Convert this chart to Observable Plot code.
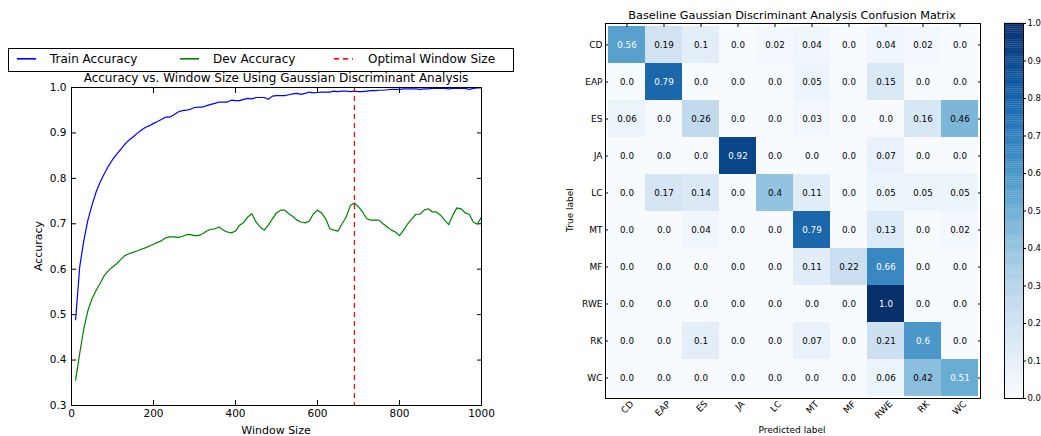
<!DOCTYPE html>
<html><head><meta charset="utf-8">
<script src="https://cdn.jsdelivr.net/npm/d3@7"></script>
<script src="https://cdn.jsdelivr.net/npm/@observablehq/plot@0.6"></script>
<style>
body{margin:0;background:#fff;font-family:"DejaVu Sans",sans-serif;color:#000;}
#root{position:relative;width:1041px;height:436px;overflow:hidden;background:#fff;}
.abs{position:absolute;white-space:nowrap;line-height:1;}
.c{transform:translate(-50%,-50%);}
.cr{transform:translate(-50%,-50%) rotate(-90deg);}
</style></head><body><div id="root"></div>
<script>
// ---------- Data: left panel ----------
const windowSizes = [10,20,30,40,50,60,70,80,90,100,110,120,130,140,150,160,170,180,190,200,
  210,220,230,240,250,260,270,280,290,300,310,320,330,340,350,360,370,380,390,400,
  410,420,430,440,450,460,470,480,490,500,510,520,530,540,550,560,570,580,590,600,
  610,620,630,640,650,660,670,680,690,700,710,720,730,740,750,760,770,780,790,800,
  810,820,830,840,850,860,870,880,890,900,910,920,930,940,950,960,970,980,990,1000];
const trainAccuracy = [0.489,0.605,0.663,0.708,0.741,0.770,0.792,0.810,0.827,0.841,
  0.853,0.864,0.875,0.884,0.891,0.899,0.906,0.912,0.916,0.921,
  0.925,0.930,0.935,0.935,0.940,0.946,0.949,0.950,0.952,0.956,
  0.957,0.957,0.960,0.963,0.965,0.968,0.968,0.968,0.972,0.971,
  0.971,0.974,0.976,0.975,0.978,0.978,0.978,0.974,0.981,0.982,
  0.982,0.982,0.984,0.986,0.987,0.985,0.987,0.990,0.988,0.989,
  0.990,0.990,0.990,0.992,0.991,0.992,0.992,0.991,0.992,0.991,
  0.991,0.992,0.993,0.993,0.994,0.994,0.995,0.996,0.996,0.996,
  0.997,0.997,0.997,0.997,0.996,0.997,0.997,0.998,0.998,0.998,
  0.998,0.997,0.998,0.998,0.998,0.998,0.996,0.998,0.999,0.999];
const devAccuracy = [0.356,0.414,0.469,0.509,0.535,0.553,0.569,0.586,0.597,0.605,
  0.612,0.621,0.630,0.634,0.637,0.640,0.644,0.647,0.651,0.655,
  0.659,0.663,0.669,0.671,0.671,0.670,0.672,0.676,0.676,0.674,
  0.674,0.678,0.684,0.688,0.689,0.693,0.686,0.682,0.680,0.684,
  0.697,0.703,0.715,0.722,0.704,0.693,0.686,0.697,0.711,0.724,
  0.730,0.730,0.722,0.716,0.708,0.704,0.702,0.706,0.722,0.730,
  0.724,0.711,0.689,0.686,0.684,0.700,0.715,0.740,0.746,0.737,
  0.726,0.711,0.708,0.708,0.708,0.700,0.693,0.686,0.682,0.674,
  0.686,0.700,0.711,0.721,0.721,0.730,0.733,0.726,0.726,0.719,
  0.708,0.698,0.719,0.735,0.733,0.724,0.721,0.704,0.699,0.715];
const optimalWindow = [690];
const xTicks = [0,200,400,600,800,1000];
const yTicks = [0.3,0.4,0.5,0.6,0.7,0.8,0.9,1.0];
const seriesNames = ["Train Accuracy","Dev Accuracy","Optimal Window Size"];
const seriesColors = ["#0000ff","#008000","#ff0000"];
const leftTitle = "Accuracy vs. Window Size Using Gaussian Discriminant Analysis";
const leftXLabel = "Window Size";
const leftYLabel = "Accuracy";

// ---------- Data: confusion matrix ----------
const classLabels = ["CD","EAP","ES","JA","LC","MT","MF","RWE","RK","WC"];
const rowCD  = [0.56,0.19,0.1,0.0,0.02,0.04,0.0,0.04,0.02,0.0];
const rowEAP = [0.0,0.79,0.0,0.0,0.0,0.05,0.0,0.15,0.0,0.0];
const rowES  = [0.06,0.0,0.26,0.0,0.0,0.03,0.0,0.0,0.16,0.46];
const rowJA  = [0.0,0.0,0.0,0.92,0.0,0.0,0.0,0.07,0.0,0.0];
const rowLC  = [0.0,0.17,0.14,0.0,0.4,0.11,0.0,0.05,0.05,0.05];
const rowMT  = [0.0,0.0,0.04,0.0,0.0,0.79,0.0,0.13,0.0,0.02];
const rowMF  = [0.0,0.0,0.0,0.0,0.0,0.11,0.22,0.66,0.0,0.0];
const rowRWE = [0.0,0.0,0.0,0.0,0.0,0.0,0.0,1.0,0.0,0.0];
const rowRK  = [0.0,0.0,0.1,0.0,0.0,0.07,0.0,0.21,0.6,0.0];
const rowWC  = [0.0,0.0,0.0,0.0,0.0,0.0,0.0,0.06,0.42,0.51];
const colorbarTicks = [0,0.1,0.2,0.3,0.4,0.5,0.6,0.7,0.8,0.9,1.0];
const cmTitle = "Baseline Gaussian Discriminant Analysis Confusion Matrix";
const cmXLabel = "Predicted label";
const cmYLabel = "True label";

// ---------- Build ----------
const root = document.getElementById("root");
const FONT = "DejaVu Sans";
const SVGNS = "http://www.w3.org/2000/svg";
function place(el, left, top) { el.style.position = "absolute"; el.style.left = left + "px"; el.style.top = top + "px"; root.appendChild(el); return el; }
function label(text, x, y, size, cls) {
  const d = document.createElement("div");
  d.className = "abs " + (cls || "c"); d.textContent = text;
  d.style.left = x + "px"; d.style.top = y + "px"; d.style.fontSize = size + "px";
  root.appendChild(d); return d;
}

const trainRows = windowSizes.map((w, i) => ({w, acc: trainAccuracy[i]}));
const devRows = windowSizes.map((w, i) => ({w, acc: devAccuracy[i]}));

const left = Plot.plot({
  width: 520, height: 436,
  marginLeft: 71, marginRight: 39, marginTop: 87, marginBottom: 31,
  style: {fontFamily: FONT, fontSize: "10.5px", background: "transparent", color: "#000", overflow: "visible"},
  x: {domain: [0, 1000]},
  y: {domain: [0.3, 1.0]},
  marks: [
    Plot.axisX({ticks: xTicks, tickSize: -5, tickPadding: 9, tickFormat: d => String(d), label: null}),
    Plot.axisX({anchor: "top", ticks: xTicks, tickSize: -5, tickFormat: () => "", label: null}),
    Plot.axisY({ticks: yTicks, tickSize: -5, tickPadding: 10, tickFormat: d3.format(".1f"), label: null}),
    Plot.axisY({anchor: "right", ticks: yTicks, tickSize: -5, tickFormat: () => "", label: null}),
    Plot.line(trainRows, {x: "w", y: "acc", stroke: seriesColors[0], strokeWidth: 1.2}),
    Plot.line(devRows, {x: "w", y: "acc", stroke: seriesColors[1], strokeWidth: 1.2}),
    Plot.ruleX(optimalWindow, {stroke: seriesColors[2], strokeWidth: 1.2, strokeDasharray: "5,4"}),
    Plot.frame({stroke: "#000", strokeWidth: 1})
  ]
});
place(left, 0, 0);

label(leftTitle, 276, 78, 12);
label(leftXLabel, 276, 430, 11);
label(leftYLabel, 38, 246, 11, "cr");

// legend (box + swatches as inline SVG)
const lsvg = document.createElementNS(SVGNS, "svg");
lsvg.setAttribute("width", 520); lsvg.setAttribute("height", 30);
lsvg.style.cssText = "position:absolute;left:0;top:44px;overflow:visible;";
const box = document.createElementNS(SVGNS, "rect");
box.setAttribute("x", 8.5); box.setAttribute("y", 4.5); box.setAttribute("width", 505); box.setAttribute("height", 23);
box.setAttribute("fill", "#fff"); box.setAttribute("stroke", "#000"); box.setAttribute("stroke-width", 1);
lsvg.appendChild(box);
const swX = [17, 180, 334], txX = [50, 213, 368];
seriesNames.forEach((name, i) => {
  const ln = document.createElementNS(SVGNS, "rect");
  ln.setAttribute("x", swX[i]); ln.setAttribute("width", 19);
  ln.setAttribute("y", 14); ln.setAttribute("height", 1.6);
  ln.setAttribute("fill", i === 2 ? "url(#dash)" : seriesColors[i]);
  lsvg.appendChild(ln);
  const tx = document.createElementNS(SVGNS, "text");
  tx.setAttribute("x", txX[i]); tx.setAttribute("y", 15); tx.setAttribute("dy", "0.35em");
  tx.setAttribute("font-family", FONT); tx.setAttribute("font-size", 12); tx.setAttribute("fill", "#000");
  tx.textContent = name;
  lsvg.appendChild(tx);
});
const defs = document.createElementNS(SVGNS, "defs");
const pat = document.createElementNS(SVGNS, "pattern");
pat.setAttribute("id", "dash"); pat.setAttribute("patternUnits", "userSpaceOnUse");
pat.setAttribute("x", swX[2]); pat.setAttribute("y", 0); pat.setAttribute("width", 9); pat.setAttribute("height", 30);
const pr = document.createElementNS(SVGNS, "rect");
pr.setAttribute("x", 0); pr.setAttribute("y", 0); pr.setAttribute("width", 5); pr.setAttribute("height", 30);
pr.setAttribute("fill", seriesColors[2]);
pat.appendChild(pr); defs.appendChild(pat); lsvg.insertBefore(defs, lsvg.firstChild);
root.appendChild(lsvg);

// confusion matrix
const matrix = [rowCD,rowEAP,rowES,rowJA,rowLC,rowMT,rowMF,rowRWE,rowRK,rowWC];
const cells = classLabels.flatMap((t, i) => classLabels.map((p, j) => ({t, p, v: matrix[i][j]})));
const fmt = v => (v % 1 === 0 ? v.toFixed(1) : String(v));
const cm = Plot.plot({
  width: 430, height: 436,
  marginLeft: 45, marginRight: 10, marginTop: 23, marginBottom: 38,
  style: {fontFamily: FONT, fontSize: "9px", background: "transparent", color: "#000", overflow: "visible"},
  x: {domain: classLabels, padding: 0},
  y: {domain: classLabels, padding: 0},
  color: {type: "linear", scheme: "blues", domain: [0, 1]},
  marks: [
    Plot.cell(cells, {x: "p", y: "t", fill: "v", inset: 0}),
    Plot.text(cells.filter(d => d.v <= 0.5), {x: "p", y: "t", text: d => fmt(d.v), fill: "#000", fontSize: 8.7}),
    Plot.text(cells.filter(d => d.v > 0.5), {x: "p", y: "t", text: d => fmt(d.v), fill: "#fff", fontSize: 8.7}),
    Plot.axisX({tickRotate: -45, tickSize: 0, tickPadding: 4, dx: 5, label: null}),
    Plot.axisX({anchor: "top", tickSize: -3, tickFormat: () => "", label: null}),
    Plot.axisY({tickSize: -3, tickPadding: 6, label: null}),
    Plot.axisY({anchor: "right", tickSize: -3, tickFormat: () => "", label: null}),
    Plot.frame({stroke: "#000", strokeWidth: 1})
  ]
});
place(cm, 560, 0);
label(cmTitle, 792, 16, 11.3);
label(cmXLabel, 792, 430, 9);
label(cmYLabel, 570, 210, 9, "cr");

// colorbar
const steps = d3.range(0, 1, 0.005);
const cb = Plot.plot({
  width: 51, height: 436,
  marginLeft: 14, marginRight: 18, marginTop: 23, marginBottom: 38,
  style: {fontFamily: FONT, fontSize: "8.5px", background: "transparent", color: "#000", overflow: "visible"},
  y: {domain: [0, 1]},
  color: {type: "linear", scheme: "blues", domain: [0, 1]},
  marks: [
    Plot.rect(steps, {y1: d => d, y2: d => d + 0.0055, fill: d => d + 0.0025}),
    Plot.axisY({anchor: "right", ticks: colorbarTicks, tickSize: 2, tickPadding: 2, tickFormat: d3.format(".1f"), label: null}),
    Plot.frame({stroke: "#000", strokeWidth: 1})
  ]
});
place(cb, 990, 0);
</script></body></html>
